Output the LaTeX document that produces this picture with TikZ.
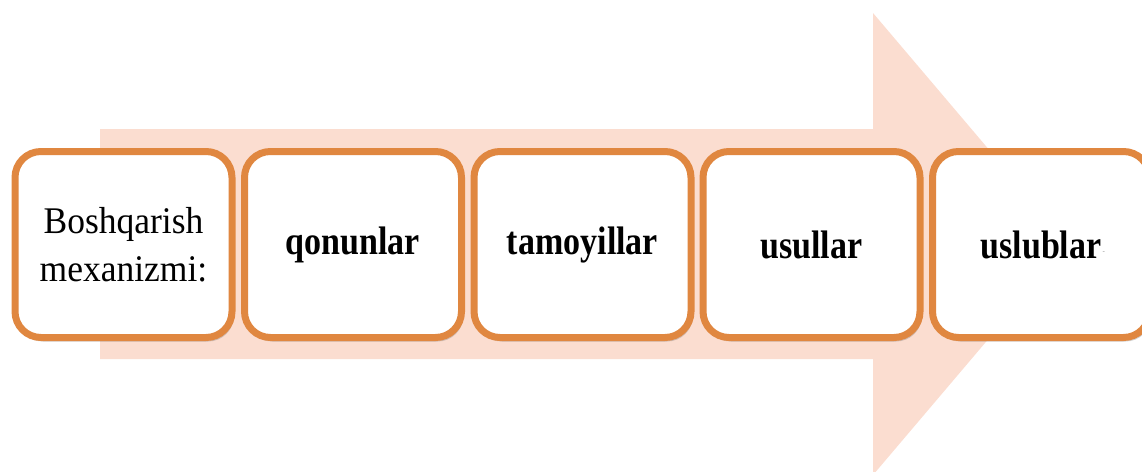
\documentclass[tikz,border=0pt]{standalone}
\usepackage{graphicx}
\usepackage{fontspec}
\setmainfont{Liberation Serif}
\usetikzlibrary{shadows}
\definecolor{arrowfill}{RGB}{251,221,208}
\definecolor{boxline}{RGB}{224,135,64}
\tikzset{
  stagebox/.style={draw=boxline, line width=7pt, fill=white, rounded corners=26pt,
    minimum width=217pt, minimum height=186pt, inner sep=0pt, align=center,
    drop shadow={shadow xshift=2pt, shadow yshift=-4pt, opacity=0.3, fill=black!60}},
  boldtext/.style={font=\fontsize{34}{40}\selectfont\bfseries},
  regtext/.style={font=\fontsize{35.5}{48}\selectfont}
}
\newcommand{\tallword}[1]{\scalebox{1}[1.17]{#1}}
\begin{document}
\begin{tikzpicture}[x=1pt,y=-1pt]
\useasboundingbox (0,0) rectangle (1142,471);
\clip (0,0) rectangle (1142,471);
\fill[arrowfill] (100,129) -- (873,129) -- (873,13) -- (1069,244) -- (873,475) -- (873,359) -- (100,359) -- cycle;
\node[stagebox, regtext] (b1) at (123.5,244.5) {\scalebox{1}[1.06]{Boshqarish}\\\scalebox{1}[1.06]{mexanizmi:}};
\node[stagebox, boldtext] (b2) at (353,244.5) {\tallword{qonunlar}};
\node[stagebox, boldtext] (b3) at (582.5,244.5) {\tallword{tamoyillar}};
\node[stagebox, boldtext] (b4) at (811.5,244.5) {\tallword{usullar}};
\node[stagebox, boldtext] (b5) at (1041,244.5) {\tallword{uslublar}};
\node[font=\fontsize{7}{7}\selectfont, text=black!45, inner sep=0pt, anchor=west] (dash) at (1102.5,253) {-};
\end{tikzpicture}
\end{document}
